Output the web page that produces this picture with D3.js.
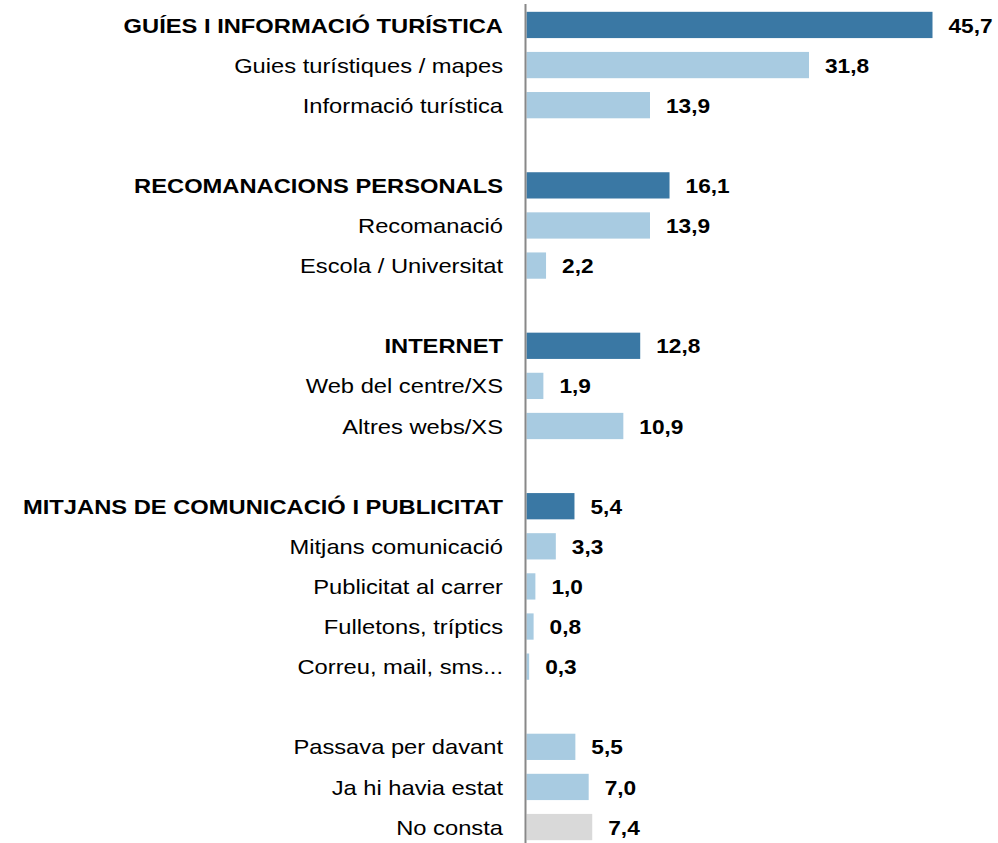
<!DOCTYPE html>
<html>
<head>
<meta charset="utf-8">
<script src="https://cdn.jsdelivr.net/npm/d3@7"></script>
<style>
  body { margin: 0; background: #fff; }
  text { font-family: "Liberation Sans", Arial, sans-serif; }
</style>
</head>
<body>
<div id="chart"></div>
<script>
// rows of the chart, top to bottom ("" = blank spacer row)
const labels = [
  "GUÍES I INFORMACIÓ TURÍSTICA", "Guies turístiques / mapes", "Informació turística", "",
  "RECOMANACIONS PERSONALS", "Recomanació", "Escola / Universitat", "",
  "INTERNET", "Web del centre/XS", "Altres webs/XS", "",
  "MITJANS DE COMUNICACIÓ I PUBLICITAT", "Mitjans comunicació", "Publicitat al carrer", "Fulletons, tríptics", "Correu, mail, sms...", "",
  "Passava per davant", "Ja hi havia estat", "No consta"
];
const values = [
  45.7, 31.8, 13.9, null,
  16.1, 13.9, 2.2, null,
  12.8, 1.9, 10.9, null,
  5.4, 3.3, 1.0, 0.8, 0.3, null,
  5.5, 7.0, 7.4
];
// group = heading row, item = sub-item, other = no consta
const kinds = [
  "group", "item", "item", "",
  "group", "item", "item", "",
  "group", "item", "item", "",
  "group", "item", "item", "item", "item", "",
  "item", "item", "other"
];

const colors = { group: "#3a78a4", item: "#a8cbe1", other: "#d9d9d9" };

const width = 998, height = 843;
const x0 = 526.5;
const stretch = 1.13; // the source text is a bit wider than Arial

const svg = d3.select("#chart").append("svg")
  .attr("width", width)
  .attr("height", height);

const rows = labels.map((l, i) => ({ label: l, value: values[i], kind: kinds[i], i: i }));

// row positions
const y = d3.scaleBand()
  .domain(rows.map(d => d.i))
  .range([5, 847])
  .paddingInner(0.345)
  .paddingOuter(0.17);

const x = d3.scaleLinear()
  .domain([0, 45.7])
  .range([x0, 932.5]);

const data = rows.filter(d => d.value !== null);

// bars
svg.append("g").selectAll("rect")
  .data(data)
  .enter()
  .append("rect")
  .attr("x", x(0))
  .attr("y", d => y(d.i))
  .attr("width", d => x(d.value) - x(0))
  .attr("height", y.bandwidth())
  .attr("fill", d => colors[d.kind]);

// category labels
svg.append("g").selectAll("text")
  .data(data)
  .enter()
  .append("text")
  .attr("transform", d => `translate(503,${y(d.i) + y.bandwidth() / 2}) scale(${stretch},1)`)
  .attr("dy", "0.36em")
  .attr("text-anchor", "end")
  .style("font-size", "21px")
  .style("font-weight", d => d.kind == "group" ? "bold" : "normal")
  .attr("fill", "#000")
  .text(d => d.label);

// value labels
svg.append("g").selectAll("text")
  .data(data)
  .enter()
  .append("text")
  .attr("transform", d => `translate(${x(d.value) + 16},${y(d.i) + y.bandwidth() / 2}) scale(1.08,1)`)
  .attr("dy", "0.36em")
  .style("font-size", "21px")
  .style("font-weight", "bold")
  .attr("fill", "#000")
  .text(d => d3.format(".1f")(d.value).replace(".", ","));

// vertical axis line
svg.append("line")
  .attr("x1", x(0) - 1)
  .attr("x2", x(0) - 1)
  .attr("y1", 4)
  .attr("y2", height)
  .attr("stroke", "#888")
  .attr("stroke-width", 2);
</script>
</body>
</html>
